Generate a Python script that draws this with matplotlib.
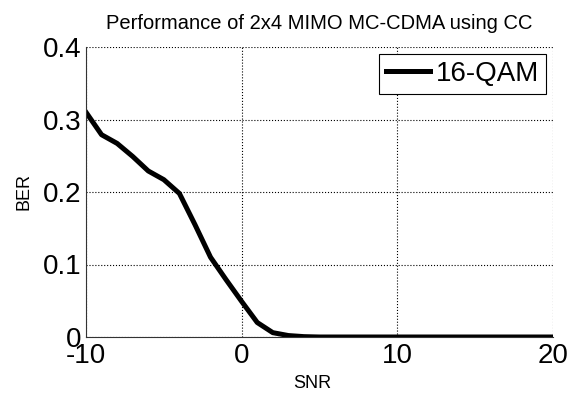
import numpy as np
import matplotlib
matplotlib.use('Agg')
import matplotlib.pyplot as plt

plt.rcParams['font.family'] = ['Liberation Sans', 'DejaVu Sans']
plt.rcParams['axes.unicode_minus'] = False

snr = [-10, -9, -8, -7, -6, -5, -4, -3, -2, -1, 0, 1, 2, 3, 4, 5, 6, 7, 8, 9, 10,
       11, 12, 13, 14, 15, 16, 17, 18, 19, 20]
ber = [0.31, 0.279, 0.267, 0.249, 0.229, 0.217, 0.198, 0.155, 0.11, 0.079, 0.049,
       0.02, 0.006, 0.002, 0.0005, 0, 0, 0, 0, 0, 0,
       0, 0, 0, 0, 0, 0, 0, 0, 0, 0]

fig = plt.figure(figsize=(5.79, 3.95), dpi=100)
ax = fig.add_axes([86/579, 1 - 337/395, (553-86)/579, (337-47)/395])

ax.plot(snr, ber, color='black', lw=3.6, label='16-QAM')
ax.set_xlim(-10, 20)
ax.set_ylim(0, 0.4)
ax.set_xticks([-10, 0, 10, 20])
ax.set_yticks([0, 0.1, 0.2, 0.3, 0.4])
ax.set_yticklabels(['0', '0.1', '0.2', '0.3', '0.4'])
ax.grid(True, linestyle=':', color='black', lw=0.8)
ax.tick_params(labelsize=20, direction='in', length=0)
ax.tick_params(axis='x', pad=4)
ax.tick_params(axis='y', pad=3)
for s in ['top', 'right']:
    ax.spines[s].set_visible(False)
ax.spines['left'].set_color('#333333')
ax.spines['bottom'].set_color('#333333')

ax.set_title('Performance of 2x4 MIMO MC-CDMA using CC', fontsize=14.5, pad=13)
ax.set_xlabel('SNR', fontsize=13)
ax.set_ylabel('BER', fontsize=13)
ax.xaxis.set_label_coords((312-86)/467, -(375-337)/290)
ax.yaxis.set_label_coords(-(86-33)/467, 0.5)

leg = ax.legend(loc='upper right', fontsize=20, fancybox=False, framealpha=1,
                edgecolor='black', handlelength=1.6, handletextpad=0.2,
                borderpad=0.25, borderaxespad=0.25)
leg.get_frame().set_linewidth(0.8)

plt.savefig('out.png', dpi=100)
